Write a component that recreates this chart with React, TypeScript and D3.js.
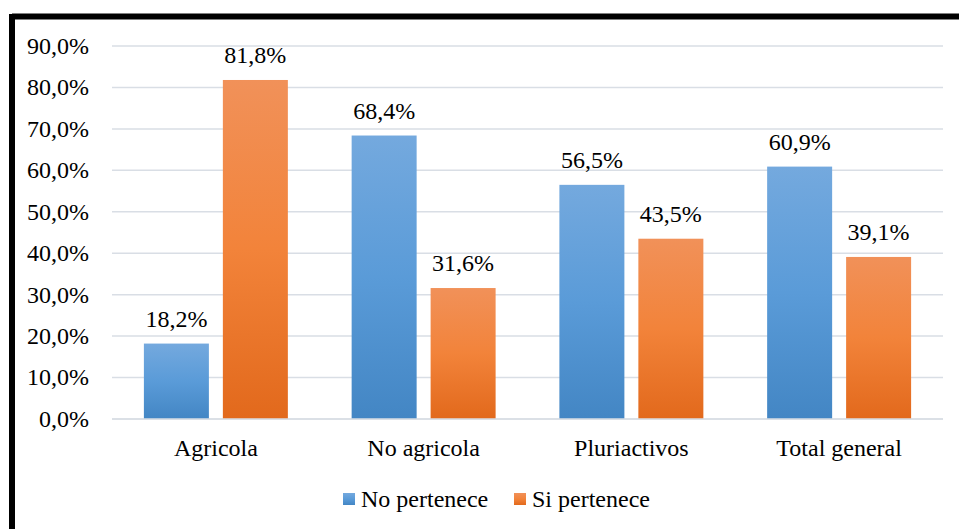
import { useMemo } from 'react'
import { scaleBand, scaleLinear } from 'd3'

const CATEGORIES = ['Agricola', 'No agricola', 'Pluriactivos', 'Total general']
const NO_PERTENECE = [18.2, 68.4, 56.5, 60.9]
const SI_PERTENECE = [81.8, 31.6, 43.5, 39.1]
const SERIES_NAMES = ['No pertenece', 'Si pertenece']
const TICKS = [0, 10, 20, 30, 40, 50, 60, 70, 80, 90]

const W = 959
const H = 529
const LEFT = 112
const RIGHT = 943
const TOP = 46
const BOTTOM = 419
const FONT = "'Liberation Serif', 'DejaVu Serif', 'Times New Roman', serif"

const fmt = (v: number) => v.toFixed(1).replace('.', ',') + '%'

export default function App() {
  const { x, inner, y } = useMemo(() => {
    const x = scaleBand<string>().domain(CATEGORIES).range([LEFT, RIGHT]).paddingInner(0.307).paddingOuter(0.1535)
    const inner = scaleBand<number>().domain([0, 1]).range([0, x.bandwidth()]).paddingInner(0.177)
    const y = scaleLinear().domain([0, 90]).range([BOTTOM, TOP])
    return { x, inner, y }
  }, [])

  const series = [NO_PERTENECE, SI_PERTENECE]
  const fills = ['url(#gBlue)', 'url(#gOrange)']
  const txt = { fontFamily: FONT, fontSize: 24, fill: '#000' } as const

  return (
    <svg width={W} height={H} style={{ position: 'absolute', left: 0, top: 0 }}>
      <defs>
        <linearGradient id="gBlue" x1="0" y1="0" x2="0" y2="1">
          <stop offset="0%" stopColor="#74a9de" />
          <stop offset="50%" stopColor="#5a9bd8" />
          <stop offset="100%" stopColor="#4386c4" />
        </linearGradient>
        <linearGradient id="gOrange" x1="0" y1="0" x2="0" y2="1">
          <stop offset="0%" stopColor="#f19159" />
          <stop offset="50%" stopColor="#f2833a" />
          <stop offset="100%" stopColor="#e2691c" />
        </linearGradient>
      </defs>
      <rect x={0} y={0} width={W} height={H} fill="#fff" />
      {/* frame */}
      <line x1={12} y1={16.5} x2={W} y2={16.5} stroke="#000" strokeWidth={6} />
      <line x1={12} y1={14} x2={12} y2={H} stroke="#000" strokeWidth={6} />

      {TICKS.map((t) => (
        <g key={t}>
          <line x1={LEFT} x2={RIGHT} y1={y(t)} y2={y(t)} stroke="#d9dee5" strokeWidth={1.5} />
          <text x={89} y={y(t)} dy="0.33em" textAnchor="end" style={txt}>
            {fmt(t)}
          </text>
        </g>
      ))}

      {CATEGORIES.map((c, ci) => (
        <g key={c}>
          {series.map((s, si) => {
            const bx = (x(c) ?? 0) + (inner(si) ?? 0)
            const v = s[ci]
            return (
              <g key={si}>
                <rect x={bx} y={y(v)} width={inner.bandwidth()} height={BOTTOM - y(v)} fill={fills[si]} />
                <text x={bx + inner.bandwidth() / 2} y={y(v) - 17} textAnchor="middle" style={txt}>
                  {fmt(v)}
                </text>
              </g>
            )
          })}
          <text x={(x(c) ?? 0) + x.bandwidth() / 2} y={456} textAnchor="middle" style={txt}>
            {c}
          </text>
        </g>
      ))}
      <line x1={LEFT} x2={RIGHT} y1={BOTTOM} y2={BOTTOM} stroke="#d9dee5" strokeWidth={1.5} />

      {SERIES_NAMES.map((n, i) => {
        const lx = i === 0 ? 343 : 514
        return (
          <g key={n}>
            <rect x={lx} y={493} width={12} height={12} fill={fills[i]} />
            <text x={lx + 18} y={507} style={txt}>
              {n}
            </text>
          </g>
        )
      })}
    </svg>
  )
}
